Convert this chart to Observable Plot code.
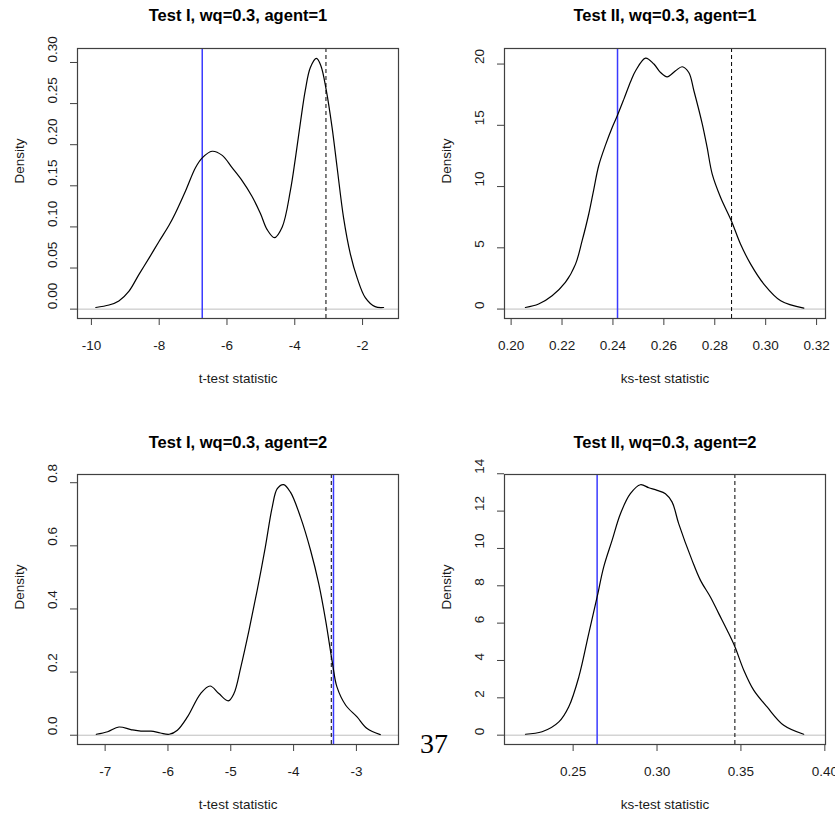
<!DOCTYPE html>
<html><head><meta charset="utf-8">
<script src="https://cdn.jsdelivr.net/npm/d3@7"></script>
<script src="https://cdn.jsdelivr.net/npm/@observablehq/plot@0.6"></script>
<style>
body{margin:0;background:#fff;}
#wrap{position:relative;width:835px;height:813px;overflow:hidden;background:#fff;font-family:"Liberation Sans",Arial,sans-serif;}
.panel{position:absolute;}
.panel svg{overflow:visible;}
#overlay{position:absolute;left:0;top:0;pointer-events:none;}
</style></head>
<body><div id="wrap"></div>
<script>
// ---- data ----
const titles = ["Test I, wq=0.3, agent=1", "Test II, wq=0.3, agent=1", "Test I, wq=0.3, agent=2", "Test II, wq=0.3, agent=2"];
const xLabels = ["t-test statistic", "ks-test statistic", "t-test statistic", "ks-test statistic"];

const t1a1X = [-9.87,-9.48,-9.19,-8.89,-8.60,-8.30,-8.01,-7.71,-7.52,-7.22,-6.93,-6.73,-6.44,-6.14,-5.85,-5.55,-5.26,-5.01,-4.82,-4.60,-4.37,-4.13,-3.98,-3.84,-3.69,-3.54,-3.36,-3.23,-3.07,-2.90,-2.75,-2.56,-2.36,-2.16,-1.92,-1.63,-1.38];
const t1a1D = [0.002,0.005,0.010,0.022,0.042,0.062,0.082,0.102,0.117,0.144,0.172,0.184,0.192,0.187,0.172,0.156,0.137,0.116,0.097,0.087,0.100,0.144,0.184,0.225,0.266,0.294,0.305,0.296,0.266,0.221,0.172,0.111,0.067,0.038,0.014,0.003,0.002];

const t2a1X = [0.2056,0.2108,0.2161,0.2213,0.2253,0.2279,0.2305,0.2325,0.2344,0.2371,0.2397,0.2417,0.2443,0.2470,0.2489,0.2528,0.2561,0.2587,0.2613,0.2646,0.2672,0.2698,0.2718,0.2751,0.2770,0.2790,0.2823,0.2865,0.2901,0.2941,0.2993,0.3059,0.3150];
const t2a1D = [0.13,0.41,1.09,2.17,3.67,5.58,7.76,9.8,11.7,13.4,14.82,15.78,17.14,18.6,19.45,20.49,20.0,19.31,18.96,19.45,19.78,19.31,17.82,15.10,13.19,11.02,9.11,7.21,5.31,3.67,2.04,0.68,0.08];

const t1a2X = [-7.14,-6.96,-6.78,-6.59,-6.43,-6.27,-6.12,-5.98,-5.85,-5.69,-5.48,-5.33,-5.19,-5.04,-4.95,-4.84,-4.71,-4.58,-4.45,-4.34,-4.26,-4.16,-4.05,-3.89,-3.73,-3.60,-3.49,-3.38,-3.31,-3.17,-2.99,-2.83,-2.62];
const t1a2D = [0.003,0.011,0.026,0.018,0.013,0.013,0.007,0.003,0.016,0.058,0.132,0.156,0.132,0.109,0.132,0.216,0.332,0.459,0.596,0.723,0.781,0.794,0.770,0.691,0.586,0.480,0.364,0.227,0.153,0.095,0.058,0.021,0.002];

const t2a2X = [0.2216,0.2315,0.2415,0.2474,0.2534,0.2593,0.2643,0.2682,0.2732,0.2782,0.2841,0.2901,0.2951,0.3001,0.3050,0.3090,0.3129,0.3209,0.3259,0.3318,0.3368,0.3418,0.3463,0.3517,0.3576,0.3656,0.3755,0.3874];
const t2a2D = [0.05,0.18,0.71,1.52,3.12,5.44,7.40,9.0,10.43,11.86,12.93,13.41,13.25,13.11,12.93,12.48,11.33,9.36,8.29,7.40,6.51,5.62,4.76,3.48,2.41,1.51,0.53,0.05];

const blueLines = [-6.73, 0.2418, -3.365, 0.2643];
const dashedLines = [-3.08, 0.2866, -3.40, 0.3464];

const xTicks1 = [-10,-8,-6,-4,-2];
const yTicks1 = [0,0.05,0.10,0.15,0.20,0.25,0.30];
const xTicks2 = [0.20,0.22,0.24,0.26,0.28,0.30,0.32];
const yTicks2 = [0,5,10,15,20];
const xTicks3 = [-7,-6,-5,-4,-3];
const yTicks3 = [0,0.2,0.4,0.6,0.8];
const xTicks4 = [0.25,0.30,0.35,0.40];
const yTicks4 = [0,2,4,6,8,10,12,14];
const pageNumber = "37";

// ---- layout ----
const FONT = '"Liberation Sans", Arial, sans-serif';
const panels = [
  {xs:t1a1X, ys:t1a1D, xt:xTicks1, yt:yTicks1, xf:d3.format("d"), yf:d3.format(".2f"),
   xd:[-10.41,-0.94], yd:[-0.0114,0.317], left:0, top:0, w:417, h:406, ml:77, mr:19, mt:48, mb:88},
  {xs:t2a1X, ys:t2a1D, xt:xTicks2, yt:yTicks2, xf:d3.format(".2f"), yf:d3.format("d"),
   xd:[0.1974,0.3235], yd:[-0.77,21.27], left:417, top:0, w:418, h:406, ml:87, mr:10, mt:48, mb:88},
  {xs:t1a2X, ys:t1a2D, xt:xTicks3, yt:yTicks3, xf:d3.format("d"), yf:d3.format(".1f"),
   xd:[-7.44,-2.33], yd:[-0.0294,0.826], left:0, top:406, w:417, h:407, ml:77, mr:19, mt:68, mb:69},
  {xs:t2a2X, ys:t2a2D, xt:xTicks4, yt:yTicks4, xf:d3.format(".2f"), yf:d3.format("d"),
   xd:[0.2091,0.4004], yd:[-0.50,13.96], left:417, top:406, w:418, h:407, ml:87, mr:10, mt:68, mb:69}
];

const wrap = document.getElementById("wrap");
panels.forEach((p, i) => {
  const data = p.xs.map((x, j) => ({x, y: p.ys[j]}));
  const minus = s => s.replace("\u2212", "-");
  const chart = Plot.plot({
    width: p.w, height: p.h,
    marginLeft: p.ml, marginRight: p.mr, marginTop: p.mt, marginBottom: p.mb,
    style: {fontFamily: FONT, fontSize: "13.5px", color: "#1a1a1a", background: "transparent", overflow: "visible"},
    x: {domain: p.xd},
    y: {domain: p.yd},
    marks: [
      Plot.ruleY([0], {stroke: "#bebebe", strokeWidth: 1}),
      Plot.ruleX([dashedLines[i]], {stroke: "#000", strokeWidth: 1, strokeDasharray: "4,3"}),
      Plot.ruleX([blueLines[i]], {stroke: "#3a3aff", strokeWidth: 1.5}),
      Plot.line(data, {x: "x", y: "y", curve: "catmull-rom", stroke: "#000", strokeWidth: 1.2}),
      Plot.frame({stroke: "#404040", strokeWidth: 1.2}),
      Plot.axisX({ticks: p.xt, tickSize: 7, tickFormat: () => "", label: null, stroke: "#404040"}),
      Plot.axisY({ticks: p.yt, tickSize: 7, tickFormat: () => "", label: null, stroke: "#404040"}),
      Plot.text(p.xt, {x: d => d, text: d => minus(p.xf(d)), frameAnchor: "bottom", dy: 27, lineAnchor: "middle"}),
      Plot.text(p.yt, {y: d => d, text: d => minus(p.yf(d)), frameAnchor: "left", dx: -25, rotate: -90, lineAnchor: "middle"}),
      Plot.text([xLabels[i]], {frameAnchor: "bottom", dy: 60, lineAnchor: "middle"}),
      Plot.text(["Density"], {frameAnchor: "left", dx: -58, rotate: -90, lineAnchor: "middle"}),
      Plot.text([titles[i]], {frameAnchor: "top", dy: (p.mt === 48 ? -33 : -32), fontWeight: "bold", fontSize: 16.5, lineAnchor: "middle", fill: "#000"})
    ]
  });
  const div = document.createElement("div");
  div.className = "panel";
  div.style.left = p.left + "px";
  div.style.top = p.top + "px";
  div.appendChild(chart);
  wrap.appendChild(div);
});

// page number
const ns = "http://www.w3.org/2000/svg";
const ov = document.createElementNS(ns, "svg");
ov.setAttribute("id", "overlay");
ov.setAttribute("width", 835);
ov.setAttribute("height", 813);
const t = document.createElementNS(ns, "text");
t.setAttribute("x", 434);
t.setAttribute("y", 753);
t.setAttribute("text-anchor", "middle");
t.setAttribute("font-family", '"Liberation Serif", "DejaVu Serif", serif');
t.setAttribute("font-size", "28");
t.textContent = pageNumber;
ov.appendChild(t);
wrap.appendChild(ov);
</script>
</body></html>
